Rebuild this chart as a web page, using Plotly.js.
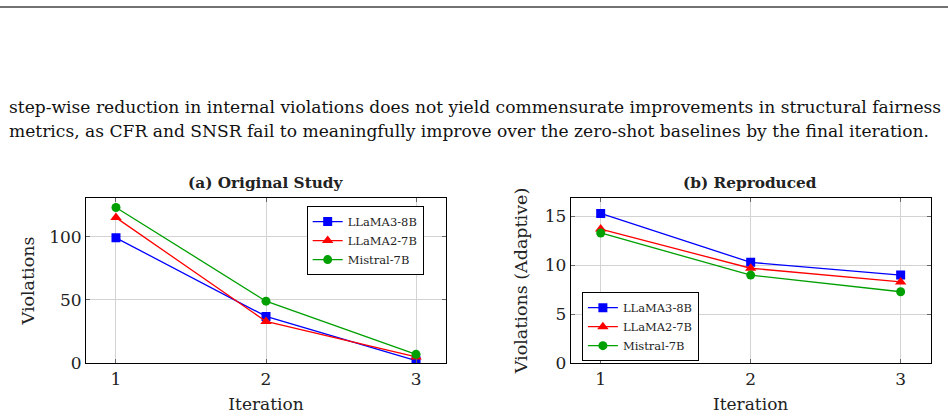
<!DOCTYPE html>
<html>
<head>
<meta charset="utf-8">
<script src="https://cdn.plot.ly/plotly-3.0.1.min.js"></script>
<style>html,body{margin:0;padding:0;background:#fff;}#chart{width:948px;height:418px;}</style>
</head>
<body>
<div id="chart"></div>
<script>
const iterations = [1, 2, 3];
const seriesNames = ["LLaMA3-8B", "LLaMA2-7B", "Mistral-7B"];
// (a) Original Study
const origLlama3 = [99, 37, 2];
const origLlama2 = [115, 33, 5];
const origMistral = [123, 49, 7];
// (b) Reproduced
const reprLlama3 = [15.3, 10.3, 9.0];
const reprLlama2 = [13.7, 9.7, 8.3];
const reprMistral = [13.3, 9.0, 7.3];
const panelTitles = ["(a) Original Study", "(b) Reproduced"];
const yTitles = ["Violations", "Violations (Adaptive)"];
const xTitle = "Iteration";
const paragraphLines = [
  "step-wise reduction in internal violations does not yield commensurate improvements in structural fairness",
  "metrics, as CFR and SNSR fail to meaningfully improve over the zero-shot baselines by the final iteration."
];

const colors = ["#0000ff", "#ff0000", "#00a000"];
const symbols = ["square", "triangle-up", "circle"];
const serif = "'DejaVu Serif', serif";

function mk(y, i, xa, ya, leg) {
  return {
    x: iterations, y: y, name: seriesNames[i], type: "scatter", mode: "lines+markers",
    xaxis: xa, yaxis: ya, legend: leg,
    line: {color: colors[i], width: 1.3},
    marker: {color: colors[i], symbol: symbols[i], size: i === 1 ? 10 : 9}
  };
}
const data = [
  mk(origLlama3, 0, "x", "y", "legend"),
  mk(origLlama2, 1, "x", "y", "legend"),
  mk(origMistral, 2, "x", "y", "legend"),
  mk(reprLlama3, 0, "x2", "y2", "legend2"),
  mk(reprLlama2, 1, "x2", "y2", "legend2"),
  mk(reprMistral, 2, "x2", "y2", "legend2")
];

const axBase = {
  showline: true, linecolor: "#000", linewidth: 1, mirror: "ticks",
  showgrid: true, gridcolor: "#d3d3d3", gridwidth: 1,
  ticks: "inside", ticklen: 4, tickcolor: "#666", zeroline: false,
  tickfont: {family: serif, size: 17, color: "#222"}
};
function xax(dom, anchor) {
  return Object.assign({}, axBase, {
    domain: dom, anchor: anchor, range: [0.8, 3.2], tickvals: iterations,
    title: {text: xTitle, font: {family: serif, size: 17, color: "#222"}, standoff: 10}
  });
}
function yax(dom, anchor, range, tv, title, so) {
  return Object.assign({}, axBase, {
    domain: dom, anchor: anchor, range: range, tickvals: tv,
    title: {text: title, font: {family: serif, size: 17.5, color: "#222"}, standoff: so}
  });
}
const yDom = [0.131, 0.527];
const legendBase = {
  bgcolor: "#fff", bordercolor: "#000", borderwidth: 1,
  font: {family: serif, size: 11.5, color: "#222"},
  xref: "paper", yref: "paper", tracegroupgap: 0, itemwidth: 30
};
const layout = {
  width: 948, height: 418, margin: {l: 0, r: 0, t: 0, b: 0},
  font: {family: serif, color: "#222"},
  paper_bgcolor: "#fff", plot_bgcolor: "#fff", showlegend: true,
  xaxis: xax([0.0907, 0.4705], "y"),
  yaxis: yax(yDom, "x", [0, 130.7], [0, 50, 100], yTitles[0], 9),
  xaxis2: xax([0.602, 0.9817], "y2"),
  yaxis2: yax(yDom, "x2", [0, 16.9], [0, 5, 10, 15], yTitles[1], 12),
  legend: Object.assign({}, legendBase, {x: 0.3235, y: 0.507, xanchor: "left", yanchor: "top"}),
  legend2: Object.assign({}, legendBase, {x: 0.6138, y: 0.301, xanchor: "left", yanchor: "top"}),
  shapes: [{type: "line", xref: "paper", yref: "paper", x0: 0, x1: 1, y0: 1 - 7/418, y1: 1 - 7/418,
            line: {color: "#444", width: 1.5}}],
  annotations: [
    {text: "<b>" + panelTitles[0] + "</b>", xref: "paper", yref: "paper", x: 266/948, y: 1 - 183/418,
     xanchor: "center", yanchor: "middle", showarrow: false, font: {family: serif, size: 15.3, color: "#222"}},
    {text: "<b>" + panelTitles[1] + "</b>", xref: "paper", yref: "paper", x: 750/948, y: 1 - 183/418,
     xanchor: "center", yanchor: "middle", showarrow: false, font: {family: serif, size: 15.3, color: "#222"}},
    {text: paragraphLines[0], xref: "paper", yref: "paper", x: 7/948, y: 1 - 107/418, xanchor: "left",
     yanchor: "middle", showarrow: false, font: {family: serif, size: 17.1, color: "#111"}},
    {text: paragraphLines[1], xref: "paper", yref: "paper", x: 7/948, y: 1 - 131/418, xanchor: "left",
     yanchor: "middle", showarrow: false, font: {family: serif, size: 17.1, color: "#111"}}
  ]
};
Plotly.newPlot("chart", data, layout, {displayModeBar: false, staticPlot: true});
</script>
</body>
</html>
